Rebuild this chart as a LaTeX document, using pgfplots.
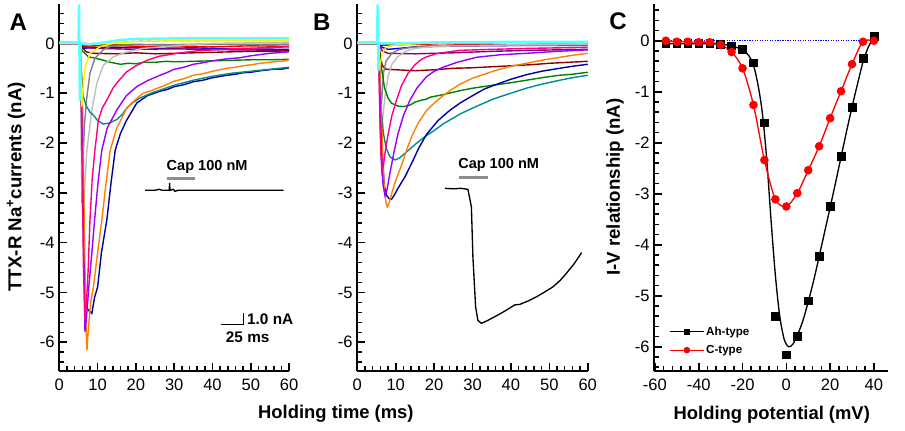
\documentclass[border=0pt]{standalone}
\usepackage{fontspec}
\setmainfont{Liberation Sans}
\setsansfont{Liberation Sans}
\usepackage{pgfplots}
\pgfplotsset{compat=1.18}

\definecolor{cnavy}{RGB}{0,0,160}
\definecolor{corange}{RGB}{255,128,0}
\definecolor{cviolet}{RGB}{150,0,255}
\definecolor{cpink}{RGB}{255,0,128}
\definecolor{cteal}{RGB}{0,140,140}
\definecolor{cgreen}{RGB}{0,130,0}
\definecolor{cbrown}{RGB}{140,0,0}
\definecolor{cgray}{RGB}{128,128,128}
\definecolor{clgray}{RGB}{190,190,190}
\definecolor{cyellow}{RGB}{255,240,0}
\definecolor{ccyan}{RGB}{90,255,255}
\definecolor{cblue}{RGB}{0,0,255}
\definecolor{cdmag}{RGB}{128,0,128}
\definecolor{cred}{RGB}{255,0,0}
\definecolor{colive}{RGB}{128,128,0}
\definecolor{cbar}{RGB}{140,140,140}

\pgfplotsset{
  panel/.style={
    scale only axis, anchor=south west, clip=false,
    axis lines=left, axis line style={-, line width=1.6pt},
    tick align=inside, every tick/.style={black, line width=1.2pt},
    major tick length=5.5pt, minor tick length=3.6pt,
    tick label style={font=\fontsize{12.4}{14}\selectfont},
    xticklabel style={yshift=-2.5pt},
    /pgf/number format/assume math mode=true,
    ytick={-6,-5,...,0}, minor y tick num=4, minor x tick num=4,
    extra y ticks={-6.4,-6.2,0.2,0.4,0.6}, extra y tick labels={},
    extra y tick style={major tick length=3.6pt},
  },
  tr/.style={line width=1.05pt, no markers},
}

\begin{document}
\begin{tikzpicture}
\path[use as bounding box] (0,0) rectangle (678.75pt,322.5pt);

% ---------------- Panel A ----------------
\begin{axis}[panel, at={(44.5pt,44.5pt)}, width=172.3pt, height=275pt,
  xmin=0, xmax=60, ymin=-6.57, ymax=0.79,
  xtick={0,10,...,60}]
\addplot[tr, colive] coordinates {(0,0.02)(5,0.01)(6,-0.05)(8,-0.06)(12,-0.03)(20,-0.02)(30,-0.03)(40,-0.01)(50,-0.03)(60,-0.02)};
\addplot[tr, cred] coordinates {(0,0)(5.3,0)(6,-0.06)(9,-0.05)(15,-0.04)(22,-0.07)(30,-0.05)(40,-0.07)(50,-0.05)(60,-0.06)};
\addplot[tr, cblue] coordinates {(0,0.01)(5.3,0)(6,-0.1)(8,-0.09)(15,-0.08)(25,-0.1)(35,-0.09)(45,-0.11)(60,-0.12)};
\addplot[tr, cdmag] coordinates {(0,0)(5.5,0)(6.5,-0.08)(10,-0.1)(20,-0.12)(30,-0.11)(45,-0.13)(60,-0.14)};
\addplot[tr, clgray, dashed] coordinates {(0,0)(10,0)(15,0.02)(25,0.07)(35,0.05)(45,0.06)(60,0.05)};
\addplot[tr, cbrown] coordinates {(0,0)(5.5,0)(6.2,-0.1)(7,-0.17)(9,-0.2)(15,-0.21)(20,-0.19)(25,-0.21)(30,-0.2)(35,-0.19)(40,-0.18)(45,-0.17)(50,-0.16)(55,-0.16)(60,-0.15)};
\addplot[tr, cgreen] coordinates {(0,0)(5.3,0)(6,-0.15)(7.6,-0.27)(10.6,-0.32)(13.3,-0.38)(16,-0.42)(18,-0.4)(20,-0.41)(22,-0.38)(25,-0.38)(28,-0.36)(30,-0.37)(35,-0.36)(40,-0.35)(45,-0.34)(50,-0.33)(55,-0.33)(60,-0.32)};
\addplot[tr, cgray] coordinates {(0,0)(5.4,0)(5.7,-1.5)(5.9,-3.2)(6.1,-2.5)(6.6,-1.6)(7.2,-1.07)(8,-0.6)(9.3,-0.3)(11.5,-0.13)(13.3,-0.06)(20,-0.03)(40,-0.02)(60,-0.02)};
\addplot[tr, clgray] coordinates {(0,0)(5.5,0)(5.8,-2)(6.1,-3.7)(6.4,-3.2)(7.2,-2.14)(8.5,-1.34)(9.8,-0.8)(11.5,-0.44)(14.1,-0.27)(17.6,-0.17)(22,-0.1)(30,-0.05)(40,0)(60,0.02)};
\addplot[tr, cnavy] coordinates {(0,0)(5.5,0)(6,-1.5)(6.4,-4)(6.8,-5.2)(7.5,-5.35)(8.5,-5.42)(9.2,-5.1)(10,-4.89)(11,-4.2)(12.4,-3.55)(13.5,-2.8)(14.6,-2.14)(16,-1.8)(17.6,-1.54)(20.2,-1.2)(23,-1.05)(26.3,-0.96)(28,-0.93)(30,-0.87)(32.5,-0.83)(35,-0.77)(37.5,-0.74)(40,-0.69)(43.8,-0.64)(46,-0.62)(48,-0.59)(50,-0.58)(52.5,-0.55)(56,-0.52)(58,-0.52)(60,-0.49)};
\addplot[tr, cteal] coordinates {(0,0)(5.3,0)(5.7,-0.5)(6.2,-1.05)(7,-1.25)(8,-1.38)(8.9,-1.44)(10,-1.55)(11.5,-1.62)(13,-1.6)(15,-1.53)(16.5,-1.42)(17.6,-1.3)(19,-1.2)(21,-1.1)(24,-1)(27,-0.92)(30,-0.84)(35,-0.74)(40,-0.66)(45,-0.6)(50,-0.56)(55,-0.52)(60,-0.48)};
\addplot[tr, corange] coordinates {(0,0)(5.5,0)(6,-1)(6.5,-3.5)(6.9,-5.5)(7.2,-6.16)(7.6,-5.7)(8.2,-5.2)(8.9,-4.89)(10,-4.2)(11.1,-3.55)(12.2,-2.8)(13.3,-2.14)(15,-1.7)(17.6,-1.3)(20,-1.12)(21.9,-1)(24,-0.95)(26.3,-0.88)(28,-0.83)(30,-0.76)(32.5,-0.71)(35,-0.64)(37.5,-0.61)(40,-0.56)(43.8,-0.5)(46,-0.48)(48,-0.45)(50,-0.43)(52.5,-0.4)(56,-0.37)(58,-0.36)(60,-0.33)};
\addplot[tr, cviolet] coordinates {(0,0)(5.5,0)(5.9,-1.5)(6.3,-4)(6.7,-5.79)(7.1,-5.5)(7.7,-4.89)(8.5,-4.2)(9.2,-3.55)(10.1,-2.8)(11.1,-2.14)(12.5,-1.7)(15,-1.34)(17.5,-1.05)(20.2,-0.87)(23,-0.75)(26.3,-0.64)(28,-0.59)(30,-0.52)(32.5,-0.48)(35,-0.42)(37.5,-0.39)(40,-0.35)(43.8,-0.31)(47,-0.29)(50,-0.25)(55,-0.2)(60,-0.17)};
\addplot[tr, cpink] coordinates {(0,0)(5.5,0)(5.9,-2)(6.3,-4.5)(6.7,-5.56)(7.1,-5.2)(7.5,-4.6)(8,-3.55)(8.6,-2.7)(9.3,-2.14)(10.2,-1.54)(11.2,-1.3)(12.4,-1.14)(14,-0.9)(15.5,-0.75)(17.6,-0.57)(20,-0.45)(22.9,-0.34)(26,-0.26)(30.7,-0.2)(36,-0.15)(45,-0.11)(60,-0.07)};
\addplot[tr, cyellow] coordinates {(0,0)(5.4,0)(5.7,-0.8)(5.9,-1.27)(6.3,-0.8)(6.8,-0.47)(8,-0.2)(10.6,-0.07)(14,0)(20,0.04)(30,0.05)(45,0.05)(60,0.05)};
\addplot[line width=1.8pt, no markers, ccyan] coordinates {(0,0.02)(5,0.02)(5.15,0.78)(5.35,-1.15)(5.6,0)(8,-0.02)(12,0.02)(16,0.07)(20,0.09)(30,0.1)(40,0.1)(50,0.1)(60,0.1)};
% inset
\addplot[line width=2.2pt, no markers, cbar] coordinates {(28.1,-2.71)(35.5,-2.71)};
\addplot[line width=1pt, no markers, black] coordinates {(22.4,-2.95)(25,-2.95)(26,-2.93)(27,-2.95)(28.7,-2.95)(28.8,-2.8)(28.9,-2.95)(29.8,-2.93)(30.2,-2.97)(31,-2.95)(45,-2.95)(58.6,-2.95)};
\node[font=\bfseries\fontsize{10.9}{12}\selectfont, inner sep=0pt] at (axis cs:38.6,-2.48) {Cap 100 nM};
% scale bar
\addplot[line width=1.1pt, no markers, black] coordinates {(42.2,-5.64)(48.1,-5.64)(48.1,-5.42)};
\node[font=\bfseries\fontsize{11.5}{12}\selectfont, inner sep=0pt, anchor=west] at (axis cs:49.0,-5.53) {1.0 nA};
\node[font=\bfseries\fontsize{11.5}{12}\selectfont, inner sep=0pt] at (axis cs:49.2,-5.9) {25 ms};
\end{axis}

% ---------------- Panel B ----------------
\begin{axis}[panel, at={(268pt,44.5pt)}, width=172.8pt, height=275pt,
  xmin=0, xmax=60, ymin=-6.57, ymax=0.79,
  xtick={0,10,...,60}]
\addplot[tr, colive] coordinates {(0,0.02)(5,0.01)(6,-0.03)(10,-0.02)(20,0.01)(30,-0.01)(40,0.02)(50,0)(60,0.01)};
\addplot[tr, cred] coordinates {(0,0)(5.3,0)(6,-0.04)(9,-0.03)(15,-0.02)(22,-0.04)(30,-0.02)(40,-0.03)(50,-0.01)(60,-0.02)};
\addplot[tr, cblue] coordinates {(0,0.01)(5.6,0)(6.5,-0.08)(8,-0.12)(11,-0.1)(15,-0.07)(30,-0.05)(45,-0.04)(60,-0.04)};
\addplot[tr, cdmag] coordinates {(0,0)(5.5,0)(6.5,-0.15)(8,-0.2)(15,-0.21)(25,-0.19)(35,-0.16)(45,-0.14)(60,-0.12)};
\addplot[tr, cbrown] coordinates {(0,0)(5.5,0)(6,-0.25)(6.5,-0.45)(7.5,-0.52)(10,-0.53)(15,-0.55)(20,-0.53)(25,-0.5)(30,-0.49)(35,-0.47)(40,-0.45)(45,-0.43)(50,-0.4)(55,-0.38)(60,-0.36)};
\addplot[tr, cgray] coordinates {(0,0)(5.5,0)(5.8,-1)(6,-1.8)(6.3,-1.2)(6.8,-0.6)(7.5,-0.35)(9,-0.2)(11,-0.12)(14,-0.08)(20,-0.05)(40,-0.04)(60,-0.03)};
\addplot[tr, clgray] coordinates {(0,0)(5.5,0)(5.9,-1.5)(6.2,-2.1)(6.6,-1.5)(7.3,-1)(8.05,-0.65)(9,-0.42)(10.5,-0.27)(12.5,-0.16)(15,-0.1)(20,-0.06)(40,-0.03)(60,-0.02)};
\addplot[tr, cgreen] coordinates {(0,0)(5.5,0)(5.9,-0.3)(6.3,-0.5)(7.1,-0.9)(8,-1.1)(8.9,-1.2)(10.6,-1.26)(12,-1.27)(13.7,-1.24)(15,-1.18)(16.7,-1.14)(18,-1.12)(19,-1.08)(22.3,-1.03)(26.7,-0.95)(30,-0.9)(35.3,-0.84)(40,-0.79)(44,-0.74)(48,-0.69)(52.7,-0.64)(56,-0.62)(60,-0.58)};
\addplot[tr, cteal] coordinates {(0,0)(5.5,0)(5.8,-0.6)(6.3,-1.4)(6.8,-1.81)(7.5,-2.1)(8.5,-2.28)(9.8,-2.34)(11,-2.3)(12.5,-2.2)(13.7,-2.12)(15.5,-2)(18,-1.85)(20,-1.75)(22.3,-1.62)(26.7,-1.42)(30,-1.3)(35.3,-1.12)(40,-1)(44,-0.9)(48,-0.82)(52.7,-0.74)(56,-0.69)(60,-0.64)};
\addplot[tr, cnavy] coordinates {(0,0)(5.5,0)(6,-1)(6.5,-2.2)(7,-2.85)(7.6,-3.05)(8.3,-3.12)(8.9,-3.13)(9.6,-3.05)(10.5,-2.92)(12.4,-2.68)(14.5,-2.35)(16,-2.1)(18,-1.83)(21,-1.55)(24,-1.35)(26.7,-1.2)(30,-1.05)(33,-0.92)(35.3,-0.85)(40,-0.72)(44,-0.63)(48,-0.56)(52.7,-0.5)(56,-0.46)(60,-0.42)};
\addplot[tr, corange] coordinates {(0,0)(5.5,0)(6,-0.8)(6.5,-2)(7,-2.9)(7.5,-3.22)(7.8,-3.28)(8.3,-3.2)(9,-3)(10,-2.75)(11.5,-2.45)(13,-2.1)(14.5,-1.81)(16,-1.58)(18,-1.35)(20,-1.2)(22.3,-1.05)(24.5,-0.93)(26.7,-0.82)(30,-0.7)(35.3,-0.56)(40,-0.46)(44,-0.4)(48,-0.34)(52.7,-0.28)(56,-0.24)(60,-0.2)};
\addplot[tr, cviolet] coordinates {(0,0)(5.5,0)(5.9,-1)(6.3,-2.2)(6.7,-2.85)(7.2,-3.05)(7.7,-2.95)(8.5,-2.6)(9.5,-2.2)(10.6,-1.81)(12,-1.45)(13.7,-1.14)(15.5,-0.9)(18,-0.67)(20,-0.56)(22.3,-0.48)(26,-0.38)(31,-0.28)(37,-0.23)(44,-0.2)(52,-0.16)(60,-0.13)};
\addplot[tr, cpink] coordinates {(0,0)(5.5,0)(5.8,-1.2)(6.1,-2.2)(6.4,-2.58)(6.8,-2.45)(7.3,-2.15)(8.05,-1.81)(9,-1.45)(10.2,-1.14)(11.5,-0.85)(13.2,-0.6)(15,-0.43)(16.7,-0.32)(18,-0.27)(21,-0.2)(26.7,-0.14)(35,-0.12)(45,-0.1)(60,-0.08)};
\addplot[tr, cyellow] coordinates {(0,0)(5.4,0)(5.7,-0.5)(6,-0.4)(6.5,-0.2)(7.5,-0.08)(10,-0.03)(20,0.01)(60,0.01)};
\addplot[line width=1.8pt, no markers, ccyan] coordinates {(0,0.02)(5.1,0.02)(5.3,0.78)(5.45,-0.54)(5.6,0)(10,0)(20,0.02)(40,0.03)(60,0.03)};
% inset
\addplot[line width=2.2pt, no markers, cbar] coordinates {(26.5,-2.69)(34,-2.69)};
\addplot[line width=1pt, no markers, black] coordinates {(22.8,-2.91)(25,-2.92)(27,-2.91)(28.8,-2.93)(29.7,-3.28)(30.1,-4.29)(30.8,-5.29)(31.4,-5.56)(32.3,-5.62)(34,-5.56)(36.2,-5.47)(38.5,-5.37)(41,-5.25)(42.3,-5.24)(44.5,-5.17)(46.6,-5.09)(48.8,-4.99)(50.9,-4.89)(52.8,-4.76)(54.4,-4.62)(56.5,-4.42)(58.4,-4.2)};
\node[font=\bfseries\fontsize{10.9}{12}\selectfont, inner sep=0pt] at (axis cs:36.8,-2.44) {Cap 100 nM};
\end{axis}

% ---------------- Panel C ----------------
\begin{axis}[panel, at={(490.7pt,44.5pt)}, width=175.4pt, height=275pt,
  xmin=-60.3, xmax=46.5, ymin=-6.47, ymax=0.72,
  xtick={-60,-40,...,40},
  legend style={at={(axis cs:-53.7,-5.56)}, anchor=north west, draw=none, fill=none,
    font=\bfseries\fontsize{8.7}{10}\selectfont, inner sep=0pt, row sep=2.7pt,
    nodes={inner sep=1pt, text height=7pt, text depth=2pt}},
  legend cell align=left,
  legend image code/.code={\draw[mark repeat=2,mark phase=2,#1] plot coordinates {(0pt,0pt) (13pt,0pt) (26pt,0pt)};}]
\addlegendimage{black, line width=0.9pt, mark=square*, mark size=1.8pt}
\addlegendentry{Ah-type}
\addlegendimage{red, line width=0.9pt, mark=*, mark size=2pt}
\addlegendentry{C-type}
\addplot[blue, densely dotted, line width=0.9pt, forget plot] coordinates {(-55,0)(40,0)};
\addplot[black, line width=1pt, smooth, no markers, forget plot] coordinates {(-55,-0.06)(-50,-0.06)(-45,-0.06)(-40,-0.06)(-35,-0.06)(-30,-0.07)(-25,-0.1)(-20,-0.18)(-17,-0.3)(-15,-0.48)(-13,-0.85)(-11,-1.4)(-9,-2.3)(-7,-3.5)(-5,-4.6)(-3,-5.4)(-1,-5.85)(1,-6)(3,-5.95)(5,-5.78)(7.5,-5.5)(10,-5.12)(12.5,-4.7)(15,-4.23)(17.5,-3.75)(20,-3.27)(22.5,-2.78)(25,-2.28)(27.5,-1.78)(30,-1.3)(32.5,-0.85)(35,-0.42)(37.5,-0.12)(40,0.06)};
\addplot[black, only marks, mark=square*, mark size=2.9pt, forget plot] coordinates {(-55,-0.05)(-50,-0.05)(-45,-0.05)(-40,-0.05)(-35,-0.05)(-30,-0.07)(-25,-0.1)(-20,-0.17)(-15,-0.43)(-10,-1.61)(-5,-5.41)(0,-6.16)(5,-5.8)(10,-5.1)(15,-4.22)(20,-3.25)(25,-2.26)(30,-1.31)(35,-0.35)(40,0.09)};
\addplot[red, line width=1pt, smooth, mark=*, mark size=2.7pt, forget plot] coordinates {(-55,0)(-50,-0.02)(-45,-0.02)(-40,-0.03)(-35,-0.03)(-30,-0.08)(-25,-0.22)(-20,-0.54)(-15,-1.26)(-10,-2.34)(-5,-3.11)(0,-3.25)(5,-2.99)(10,-2.54)(15,-2.07)(20,-1.52)(25,-0.99)(30,-0.46)(35,-0.02)(40,0)};
\end{axis}

% ---------------- labels ----------------
\node[font=\bfseries\fontsize{18}{20}\selectfont, inner sep=0pt] at (13.7pt,306pt) {A};
\node[font=\bfseries\fontsize{18}{20}\selectfont, inner sep=0pt] at (241.3pt,305.6pt) {B};
\node[font=\bfseries\fontsize{18}{20}\selectfont, inner sep=0pt] at (463.5pt,306.9pt) {C};
\node[font=\bfseries\fontsize{14}{16}\selectfont, inner sep=0pt, rotate=90] at (12pt,182.5pt) {TTX-R Na\textsuperscript{+}currents (nA)};
\node[font=\bfseries\fontsize{14}{16}\selectfont, inner sep=0pt, rotate=90] at (461.2pt,182.2pt) {I-V relationship (nA)};
\node[font=\bfseries\fontsize{13.8}{16}\selectfont, inner sep=0pt] at (251.9pt,12.4pt) {Holding time (ms)};
\node[font=\bfseries\fontsize{13.8}{16}\selectfont, inner sep=0pt] at (578.8pt,11.6pt) {Holding potential (mV)};
\end{tikzpicture}
\end{document}
